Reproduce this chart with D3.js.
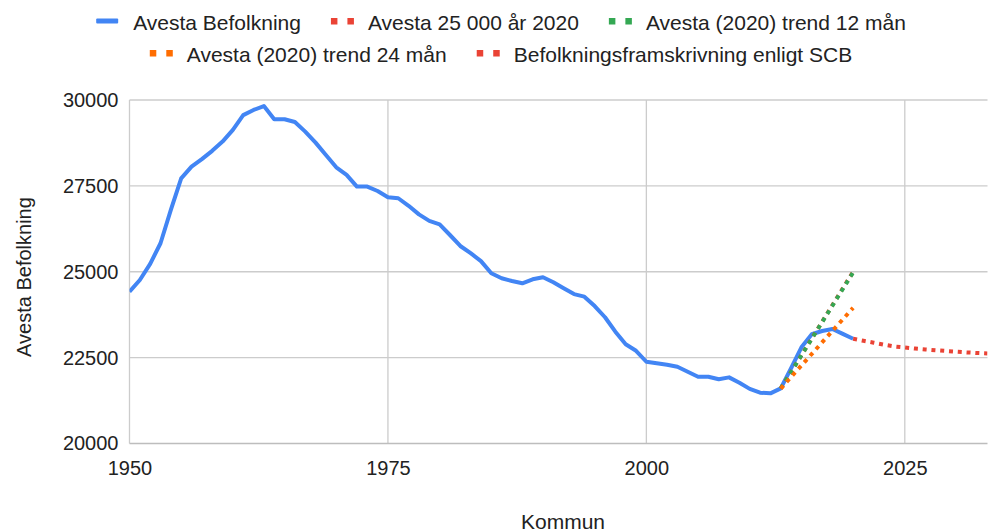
<!DOCTYPE html>
<html>
<head>
<meta charset="utf-8">
<script src="https://cdn.jsdelivr.net/npm/d3@7"></script>
<style>
  body { margin: 0; background: #fff; }
  svg { display: block; font-family: "Liberation Sans", Arial, sans-serif; }
</style>
</head>
<body>
<svg width="988" height="532"></svg>
<script>
// data
let years = d3.range(1950, 2021)
let befolkning = [24420,24760,25230,25830,26800,27720,28060,28280,28520,28790,
  29130,29560,29710,29825,29440,29440,29360,29080,28760,28400,
  28040,27820,27480,27480,27350,27170,27140,26920,26670,26480,
  26380,26070,25750,25540,25310,24955,24810,24730,24665,24780,
  24840,24695,24520,24350,24275,24000,23675,23255,22890,22700,
  22380,22335,22295,22235,22090,21945,21945,21870,21925,21770,
  21590,21480,21460,21605,22190,22800,23180,23275,23335,23190,23050]

let trendYears = [2013, 2020]
let mal25000 = [21600, 25000]
let trend12 = [21600, 24980]
let trend24 = [21600, 23950]

let scbYears = d3.range(2020, 2034)
let scb = [23050,22990,22935,22875,22825,22795,22765,22738,22715,22693,22672,22652,22635,22620]

let yTicks = [20000, 22500, 25000, 27500, 30000]
let xTicks = [1950, 1975, 2000, 2025]

let seriesNames = ['Avesta Befolkning','Avesta 25 000 år 2020','Avesta (2020) trend 12 mån','Avesta (2020) trend 24 mån','Befolkningsframskrivning enligt SCB']
let colors = ['#4285F4','#EA4335','#34A853','#FF6D01','#EA4335']

let svg = d3.select('svg')
let plotLeft = 129.5, plotRight = 987.5, plotTop = 100, plotBottom = 443.5

let xScale = d3.scaleLinear().domain([1950, 2033]).range([plotLeft, plotRight])
let yScale = d3.scaleLinear().domain([20000, 30000]).range([plotBottom, plotTop])

// gridlines
svg.append('g').selectAll('line')
  .data(yTicks.slice(1))
  .enter().append('line')
  .attr('x1', plotLeft).attr('x2', plotRight)
  .attr('y1', d => yScale(d)).attr('y2', d => yScale(d))
  .attr('stroke', '#cccccc').attr('stroke-width', 1.3)
svg.append('g').selectAll('line')
  .data(xTicks)
  .enter().append('line')
  .attr('x1', d => xScale(d)).attr('x2', d => xScale(d))
  .attr('y1', plotTop).attr('y2', plotBottom)
  .attr('stroke', '#cccccc').attr('stroke-width', 1.3)
// baseline
svg.append('line')
  .attr('x1', plotLeft).attr('x2', plotRight)
  .attr('y1', yScale(20000)).attr('y2', yScale(20000))
  .attr('stroke', '#bdbdbd').attr('stroke-width', 1.6)

// axes (labels only)
let yAxis = d3.axisLeft(yScale).tickValues(yTicks).tickSize(0).tickPadding(11).tickFormat(d3.format('d'))
let gy = svg.append('g').attr('transform', 'translate(' + plotLeft + ',0)').call(yAxis)
let xAxis = d3.axisBottom(xScale).tickValues(xTicks).tickSize(0).tickPadding(17).tickFormat(d3.format('d'))
let gx = svg.append('g').attr('transform', 'translate(0,' + plotBottom + ')').call(xAxis)
;[gx, gy].forEach(g => {
  g.select('.domain').remove()
  g.selectAll('text').attr('font-size', 20).attr('fill', '#222').attr('font-family', '"Liberation Sans", Arial, sans-serif')
})

// axis titles
svg.append('text').attr('x', 563).attr('y', 529).attr('text-anchor', 'middle')
  .attr('font-size', 21).attr('fill', '#222').text('Kommun')
svg.append('text').attr('transform', 'translate(31,277) rotate(-90)').attr('text-anchor', 'middle')
  .attr('font-size', 20).attr('fill', '#222').text('Avesta Befolkning')

// lines
svg.append('clipPath').attr('id', 'plot').append('rect')
  .attr('x', plotLeft).attr('y', 80).attr('width', plotRight - plotLeft).attr('height', 380)
let plot = svg.append('g').attr('clip-path', 'url(#plot)')
let line = d3.line().x(d => xScale(d[0])).y(d => yScale(d[1]))

let series = [
  d3.zip(years, befolkning),
  d3.zip(trendYears, mal25000),
  d3.zip(trendYears, trend12),
  d3.zip(trendYears, trend24),
  d3.zip(scbYears, scb)
]
series.forEach((s, i) => {
  plot.append('path')
    .attr('d', line(s))
    .attr('fill', 'none')
    .attr('stroke', colors[i])
    .attr('stroke-width', 4)
    .attr('stroke-linejoin', 'round')
    .attr('stroke-dasharray', i == 0 ? null : '4 4.8')
})

// legend, two centred rows
let rows = [[0, 1, 2], [3, 4]]
let legend = svg.append('g')
rows.forEach((row, r) => {
  let cy = 21 + r * 32
  let g = legend.append('g')
  let xpos = 0
  row.forEach(i => {
    if (i == 0) {
      g.append('rect').attr('x', xpos).attr('y', cy - 2.5).attr('width', 22).attr('height', 5)
        .attr('rx', 1).attr('fill', colors[i])
    } else {
      g.append('rect').attr('x', xpos).attr('y', cy - 3).attr('width', 6.5).attr('height', 6.5).attr('fill', colors[i])
      g.append('rect').attr('x', xpos + 16.5).attr('y', cy - 3).attr('width', 6.5).attr('height', 6.5).attr('fill', colors[i])
    }
    let t = g.append('text').attr('x', xpos + 37).attr('y', cy + 9)
      .attr('font-size', 21).attr('fill', '#222').text(seriesNames[i])
    xpos += 37 + t.node().getComputedTextLength() + 30
  })
  let w = xpos - 30
  g.attr('transform', 'translate(' + (501 - w / 2) + ',0)')
})
</script>
</body>
</html>
